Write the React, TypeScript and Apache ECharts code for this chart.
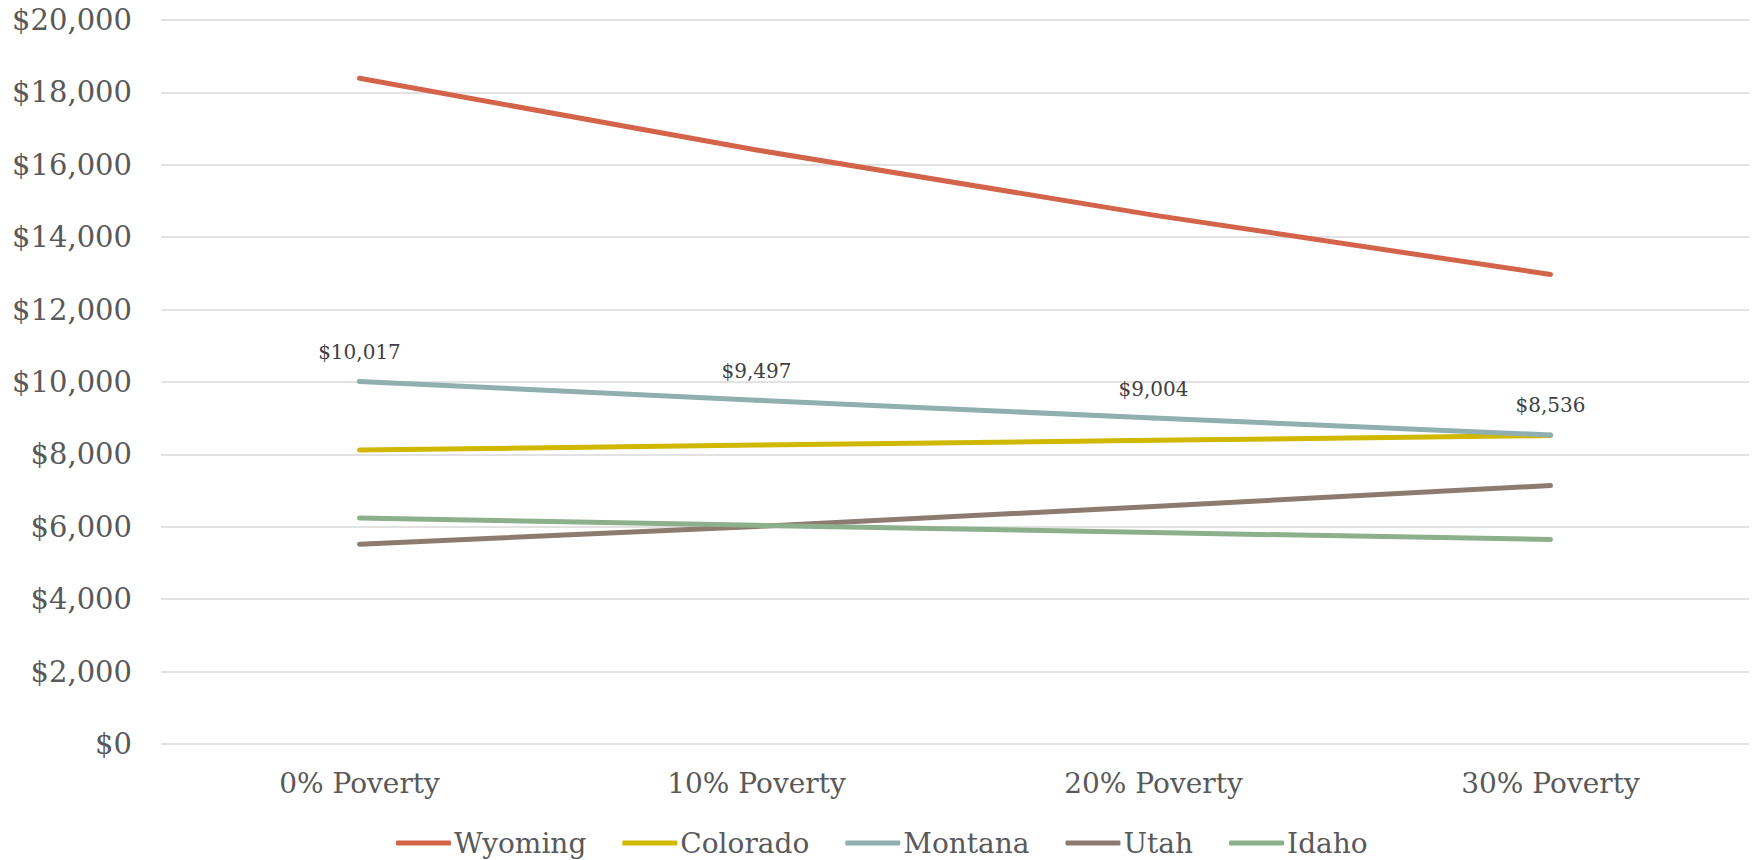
import React, { useEffect, useRef } from "react";
import * as echarts from "echarts";

// Per-pupil funding by district poverty level, five Mountain West states
const categories = ["0% Poverty", "10% Poverty", "20% Poverty", "30% Poverty"];
const wyoming = [18390, 16410, 14610, 12970];
const colorado = [8120, 8260, 8390, 8520];
const montana = [10017, 9497, 9004, 8536];
const utah = [5520, 6010, 6560, 7140];
const idaho = [6240, 6040, 5840, 5650];
const yTicks = { min: 0, max: 20000, interval: 2000 };

const FONT = "'DejaVu Serif', Georgia, serif";
const money = (v: number) => "$" + Math.round(v).toLocaleString("en-US");

export default function App() {
  const ref = useRef<HTMLDivElement>(null);

  useEffect(() => {
    if (!ref.current) return;
    const chart = echarts.init(ref.current, null, { renderer: "svg" });

    const lineSeries = (name: string, values: number[], color: string, extra: any = {}) => ({
      name,
      type: "line",
      data: values,
      showSymbol: false,
      symbol: "circle",
      symbolSize: 5,
      color,
      itemStyle: { color },
      lineStyle: { width: 5, color, cap: "round", join: "round" },
      emphasis: { disabled: true },
      ...extra,
    });

    chart.setOption({
      animation: false,
      backgroundColor: "#ffffff",
      grid: { left: 161, right: 3, top: 20, bottom: 116 },
      xAxis: {
        type: "category",
        data: categories,
        boundaryGap: true,
        axisLine: { show: false },
        axisTick: { show: false },
        axisLabel: { color: "#595959", fontSize: 28, fontFamily: FONT, margin: 25 },
      },
      yAxis: {
        type: "value",
        ...yTicks,
        axisLine: { show: false },
        axisTick: { show: false },
        splitLine: { lineStyle: { color: "#D9D9D9", width: 1.5 } },
        axisLabel: {
          color: "#595959",
          fontSize: 29,
          fontFamily: FONT,
          margin: 29,
          formatter: (v: number) => money(v),
        },
      },
      legend: {
        left: 396,
        top: 829,
        padding: 0,
        itemGap: 36,
        itemWidth: 55,
        itemHeight: 5,
        icon: "roundRect",
        textStyle: { color: "#595959", fontSize: 28, fontFamily: FONT, padding: [0, 0, 0, -2] },
        data: ["Wyoming", "Colorado", "Montana", "Utah", "Idaho"],
      },
      series: [
        lineSeries("Wyoming", wyoming, "#D3644A"),
        lineSeries("Colorado", colorado, "#D0B700"),
        lineSeries("Montana", montana, "#8FAFB0", {
          showSymbol: true,
          label: {
            show: true,
            position: "top",
            distance: 17,
            color: "#404040",
            fontSize: 20,
            fontFamily: FONT,
            formatter: (p: any) => money(p.value),
          },
        }),
        lineSeries("Utah", utah, "#8D7B70"),
        lineSeries("Idaho", idaho, "#8CB08C"),
      ],
    });

    return () => chart.dispose();
  }, []);

  return (
    <div
      ref={ref}
      style={{ position: "absolute", left: 0, top: 0, width: 1752, height: 860 }}
    />
  );
}
